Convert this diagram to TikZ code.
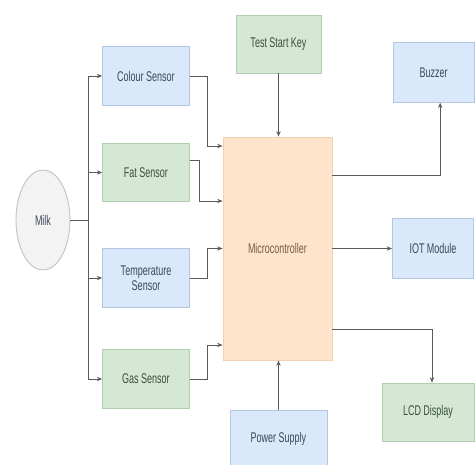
\documentclass[tikz,border=0pt]{standalone}
\usepackage{fontspec}
\setsansfont{Liberation Sans}[FakeStretch=0.64]
\usepackage{xcolor}
\usepackage{tikz}
\usetikzlibrary{positioning,arrows.meta,shapes.geometric}
\definecolor{bluecol}{RGB}{218,232,252}
\definecolor{blueborder}{RGB}{178,198,228}
\definecolor{bluetext}{RGB}{60,72,92}
\definecolor{greencol}{RGB}{213,232,212}
\definecolor{greenborder}{RGB}{178,206,176}
\definecolor{greentext}{RGB}{58,80,58}
\definecolor{microcol}{RGB}{255,228,204}
\definecolor{microborder}{RGB}{242,208,176}
\definecolor{microtext}{RGB}{120,90,66}
\definecolor{milkcol}{RGB}{243,243,243}
\definecolor{milkborder}{RGB}{196,196,196}
\definecolor{linecol}{RGB}{90,90,90}

\begin{document}
\begin{tikzpicture}[
                font=\sffamily\fontsize{12}{13}\selectfont,
                >={Stealth[length=1.6mm,width=1.3mm]},
                mainnode/.style={rectangle, draw, line width=0.8pt, inner sep=3pt, align=center},
                bluebox/.style={mainnode, fill=bluecol, draw=blueborder, text=bluetext},
                greenbox/.style={mainnode, fill=greencol, draw=greenborder, text=greentext},
                sensorbox/.style={minimum width=2.6cm, minimum height=1.76cm},
                outbox/.style={minimum width=2.43cm, minimum height=1.78cm},
                arrow/.style={->, line width=0.8pt, draw=linecol}
                ]
                \useasboundingbox[fill=white] (0,0) rectangle (14.28,-13.95);

                \node[ellipse, draw=milkborder, line width=0.8pt, fill=milkcol, text=bluetext, minimum width=1.62cm, minimum height=3.0cm] (milk) at (1.29,-6.6) {Milk};

                \node[bluebox, sensorbox] (colour) at (4.38,-2.28) {Colour Sensor};
                \node[greenbox, sensorbox] (fat) at (4.38,-5.175) {Fat Sensor};
                \node[bluebox, sensorbox] (temp) at (4.38,-8.34) {Temperature\\Sensor};
                \node[greenbox, sensorbox] (gas) at (4.38,-11.37) {Gas Sensor};

                \node[mainnode, fill=microcol, draw=microborder, text=microtext, minimum width=3.27cm, minimum height=6.69cm] (micro) at (8.325,-7.455) {Microcontroller};
                \node[greenbox, minimum width=2.55cm, minimum height=1.74cm] (key) at (8.355,-1.32) {Test Start Key};
                \node[bluebox, minimum width=2.91cm, minimum height=1.74cm] (power) at (8.355,-13.17) {Power Supply};

                \node[bluebox, outbox] (buzzer) at (13.005,-2.175) {Buzzer};
                \node[bluebox, outbox] (iot) at (12.99,-7.455) {IOT Module};
                \node[greenbox, minimum width=2.76cm, minimum height=1.74cm] (lcd) at (12.84,-12.36) {LCD Display};

                % milk to the sensors
                \coordinate (split) at (2.64,-6.6);
                \draw[line width=0.8pt, draw=linecol] (milk.east) -- (split);
                \foreach \s in {colour,fat,temp,gas}
                    \draw[arrow] (split) |- (\s.west);

                % sensors to the microcontroller
                \draw[arrow] (colour.east) -- ++(0.54,0) |- ([yshift=3.075cm]micro.west);
                \draw[arrow] ([yshift=0.375cm]fat.east) -- ++(0.30,0) |- ([yshift=1.425cm]micro.west);
                \draw[arrow] (temp.east) -- ++(0.54,0) |- (micro.west);
                \draw[arrow] (gas.east) -- ++(0.54,0) |- ([yshift=-2.895cm]micro.west);

                \draw[arrow] (key.south) -- (key.south |- micro.north);
                \draw[arrow] (power.north) -- (power.north |- micro.south);

                % microcontroller to the outputs
                \draw[arrow] ([yshift=2.205cm]micro.east) -| ([xshift=0.2cm]buzzer.south);
                \draw[arrow] (micro.east) -- (iot.west);
                \draw[arrow] ([yshift=-2.415cm]micro.east) -| ([xshift=0.12cm]lcd.north);
            \end{tikzpicture}
\end{document}
